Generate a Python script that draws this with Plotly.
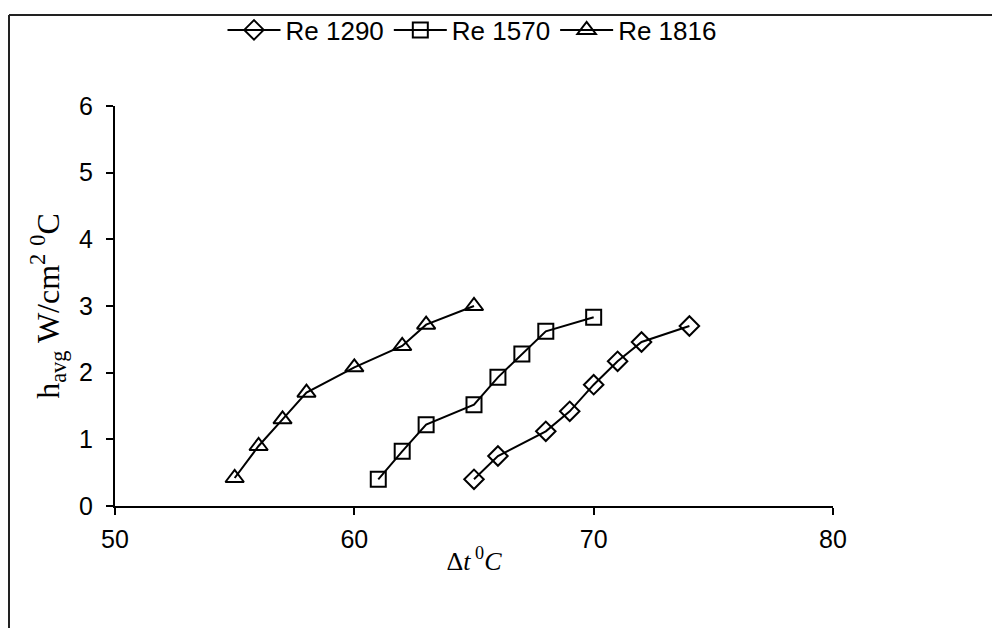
import plotly.graph_objects as go

# Data
re1290_x = [65, 66, 68, 69, 70, 71, 72, 74]
re1290_y = [0.40, 0.75, 1.12, 1.42, 1.82, 2.17, 2.46, 2.70]
re1570_x = [61, 62, 63, 65, 66, 67, 68, 70]
re1570_y = [0.40, 0.82, 1.22, 1.52, 1.93, 2.28, 2.62, 2.83]
re1816_x = [55, 56, 57, 58, 60, 62, 63, 65]
re1816_y = [0.42, 0.90, 1.30, 1.70, 2.08, 2.40, 2.72, 3.00]
series_names = ["Re 1290", "Re 1570", "Re 1816"]
x_ticks = [50, 60, 70, 80]
y_ticks = [0, 1, 2, 3, 4, 5, 6]

W, H = 1000, 628
OFF = 8  # page body margin
L, R, T, B = 115 - OFF, 833 - OFF, 106 - OFF, 506 - OFF

fig = go.Figure()
specs = [
    (re1290_x, re1290_y, "diamond-open", 15),
    (re1570_x, re1570_y, "square-open", 15),
    (re1816_x, re1816_y, "triangle-up-open", 16),
]
for (xs, ys, sym, sz), name in zip(specs, series_names):
    fig.add_trace(go.Scatter(
        x=xs, y=ys, name=name, mode="lines+markers",
        line=dict(color="black", width=2),
        marker=dict(symbol=sym, size=sz, color="black",
                    line=dict(color="black", width=2)),
    ))

def px2x(px):
    return (px - L) / (R - L)

def py2y(py):
    return (B - py) / (B - T)

# outer frame (top and left edges visible, like the reference)
FRAME_TOP = 7
fig.add_shape(type="line", xref="paper", yref="paper",
              x0=px2x(1), x1=px2x(W), y0=py2y(FRAME_TOP), y1=py2y(FRAME_TOP),
              line=dict(color="#222", width=2))
fig.add_shape(type="line", xref="paper", yref="paper",
              x0=px2x(1), x1=px2x(1), y0=py2y(FRAME_TOP), y1=py2y(H),
              line=dict(color="#222", width=2))

SANS = "Liberation Sans, Arial, sans-serif"
SERIF = "Liberation Serif, Times New Roman, serif"

fig.update_layout(
    width=W, height=H,
    margin=dict(l=L, r=W - R, t=T, b=H - B, autoexpand=False),
    paper_bgcolor="white", plot_bgcolor="white",
    font=dict(family=SANS, size=25, color="black"),
    showlegend=True,
    legend=dict(orientation="h", x=px2x(472 - OFF), xanchor="center",
                y=py2y(22), yanchor="middle",
                font=dict(family=SANS, size=26), tracegroupgap=0,
                itemwidth=53,
                bgcolor="rgba(0,0,0,0)"),
    xaxis=dict(range=[50, 80], tickvals=x_ticks, showgrid=False, zeroline=False,
               showline=True, linecolor="black", linewidth=2,
               ticks="outside", ticklen=7, tickcolor="black", tickwidth=2,
               ticklabelstandoff=3,
               tickfont=dict(family=SANS, size=25),
               title=dict(text="Δ<i>t</i><sup> 0</sup><i>C</i>",
                          font=dict(family=SERIF, size=26),
                          standoff=0)),
    yaxis=dict(range=[0, 6], tickvals=y_ticks, showgrid=False, zeroline=False,
               showline=True, linecolor="black", linewidth=2,
               ticks="outside", ticklen=7, tickcolor="black", tickwidth=2,
               ticklabelstandoff=8,
               tickfont=dict(family=SANS, size=25),
               title=dict(text="h<sub>avg</sub> W/cm<sup>2</sup> <sup>0</sup>C",
                          font=dict(family=SERIF, size=32),
                          standoff=10)),
)

fig.write_html("out.html")
